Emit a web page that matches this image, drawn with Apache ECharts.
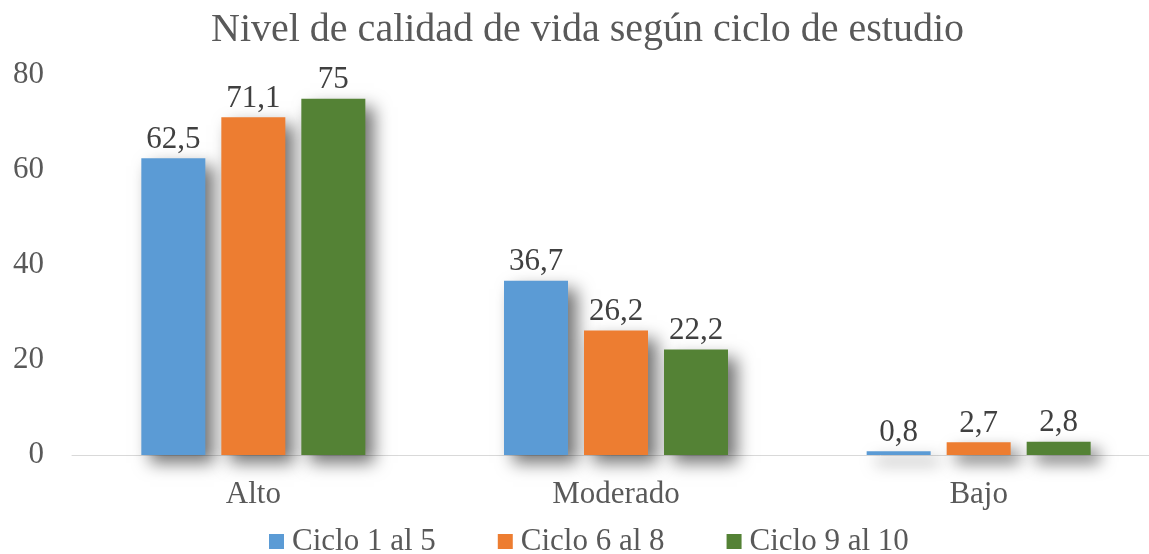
<!DOCTYPE html>
<html>
<head>
<meta charset="utf-8">
<script src="https://cdn.jsdelivr.net/npm/echarts@6/dist/echarts.min.js"></script>
<style>
    html, body { margin: 0; padding: 0; background: #fff; }
    #chart { width: 1149px; height: 554px; }
</style>
</head>
<body>
<div id="chart"></div>
<script>
const categories = ['Alto', 'Moderado', 'Bajo']
const ciclo1a5 = [62.5, 36.7, 0.8]
const ciclo6a8 = [71.1, 26.2, 2.7]
const ciclo9a10 = [75, 22.2, 2.8]
const seriesNames = ['Ciclo 1 al 5', 'Ciclo 6 al 8', 'Ciclo 9 al 10']
const colors = ['#5B9BD5', '#ED7D31', '#548235']

const FONT = '"Liberation Serif", "DejaVu Serif", serif'

// etiqueta con coma decimal
const makeSeries = (name, data, color) => ({
    name,
    type: 'bar',
    data,
    barWidth: 64,
    barGap: '25%',
    itemStyle: {
        color,
        shadowColor: 'rgba(0,0,0,0.55)',
        shadowBlur: 16,
        shadowOffsetX: 9,
        shadowOffsetY: 8,
    },
    label: {
        show: true,
        position: 'top',
        distance: 3,
        color: '#404040',
        fontFamily: FONT,
        fontSize: 31,
        formatter: (p) => String(p.value).replace('.', ','),
    },
})

const myChart = echarts.init(document.getElementById('chart'))
const option = {
    backgroundColor: '#fff',
    title: {
        text: 'Nivel de calidad de vida según ciclo de estudio',
        left: 206,
        top: 5,
        textStyle: { fontFamily: FONT, fontSize: 40, fontWeight: 'normal', color: '#595959' },
    },
    legend: {
        bottom: -8,
        left: 264,
        itemWidth: 15,
        itemHeight: 15,
        itemGap: 62,
        icon: 'rect',
        textStyle: { fontFamily: FONT, fontSize: 31, color: '#595959', padding: [0, 0, 0, 3] },
        data: seriesNames,
    },
    grid: { left: 72, top: 75, width: 1088, height: 380, outerBoundsMode: 'none' },
    xAxis: {
        type: 'category',
        data: categories,
        axisTick: { show: false },
        axisLine: { lineStyle: { color: '#d9d9d9', width: 1 } },
        axisLabel: { fontFamily: FONT, fontSize: 31, color: '#595959', margin: 24 },
    },
    yAxis: {
        type: 'value',
        min: 0,
        max: 80,
        interval: 20,
        splitLine: { show: false },
        axisLabel: { fontFamily: FONT, fontSize: 31, color: '#595959', margin: 28 },
    },
    series: [
        makeSeries(seriesNames[0], ciclo1a5, colors[0]),
        makeSeries(seriesNames[1], ciclo6a8, colors[1]),
        makeSeries(seriesNames[2], ciclo9a10, colors[2]),
    ],
}
myChart.setOption(option)
</script>
</body>
</html>
